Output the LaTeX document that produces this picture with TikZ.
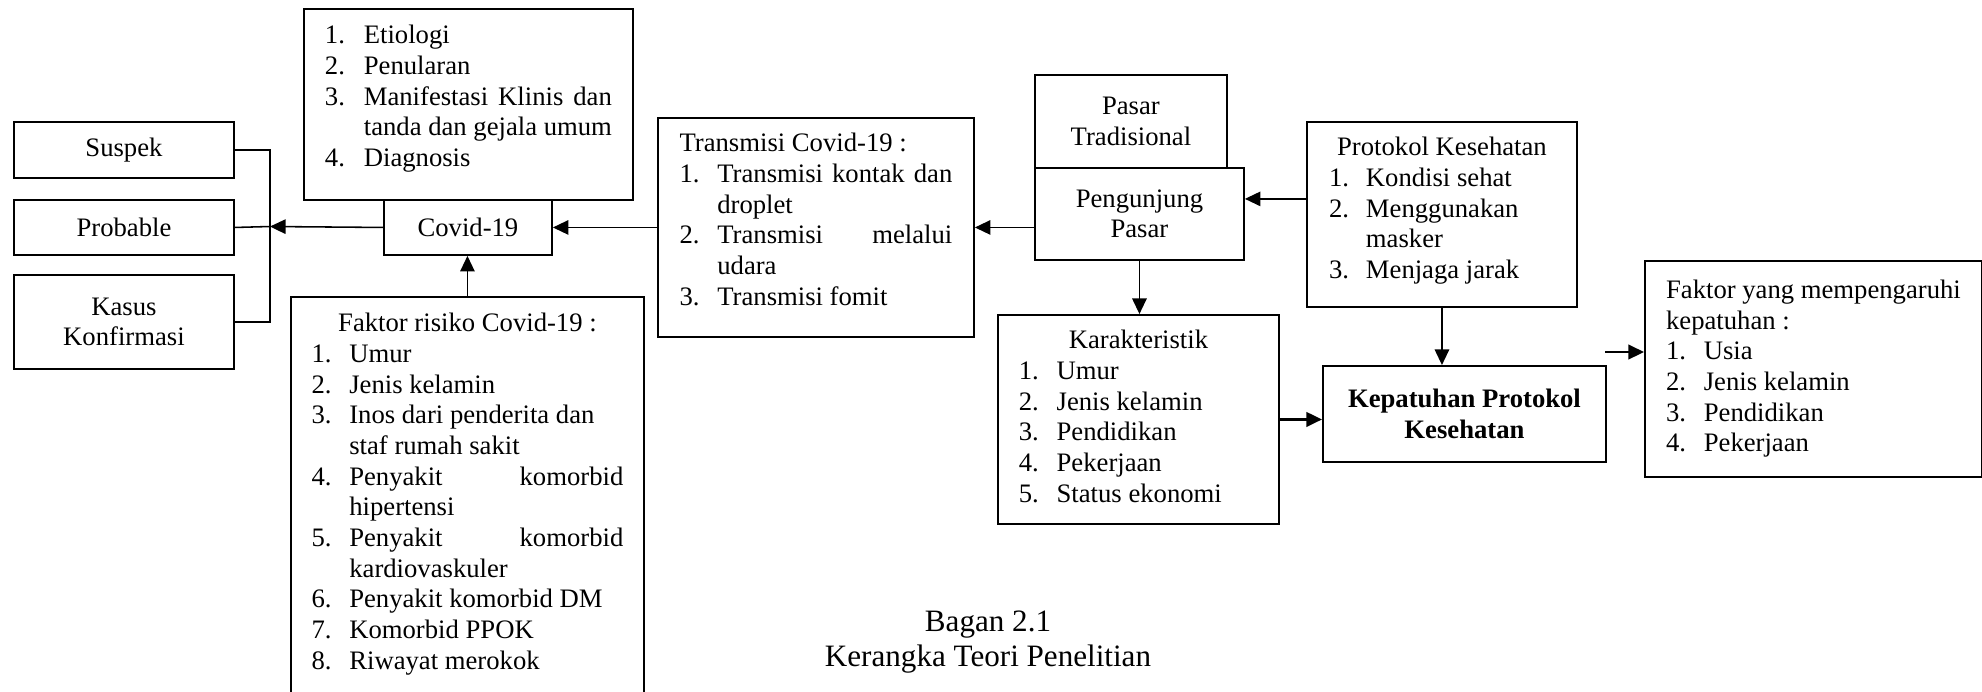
\documentclass[tikz,border=0pt]{standalone}
\usepackage{fontspec}
\setmainfont{Liberation Serif}
\usetikzlibrary{arrows.meta}
\newcommand{\jl}[2]{\makebox[#1][s]{#2}}
\tikzset{
	box/.style={draw, line width=0.85pt, inner sep=0pt, anchor=north west, align=center, font=\fontsize{12}{13.8}\selectfont},
	wh/.style 2 args={minimum width=#1*0.45pt, minimum height=#2*0.45pt},
	arr/.style={line width=0.7pt, -{Triangle[length=7pt, width=6.5pt]}},
	tebal/.style={arr, line width=1.1pt}
}

\begin{document}
\begin{tikzpicture}[x=0.45pt, y=-0.45pt]
	\useasboundingbox (0,0) rectangle (1982,691);
	% klasifikasi kasus
	\node[box, wh={220}{56}] (suspek) at (13,121) {Suspek};
	\node[box, wh={220}{55}] (probable) at (13,199) {Probable};
	\node[box, wh={220}{94}] (kasus) at (13,274) {Kasus\\Konfirmasi};
	% covid-19
	\node[box, wh={329}{191}] (materi) at (303,8) {\begin{tabular}{@{}p{17.5pt}@{}l@{}}
		1. & Etiologi\\
		2. & Penularan\\
		3. & \jl{111.6pt}{Manifestasi Klinis dan}\\
		& tanda dan gejala umum\\
		4. & Diagnosis\\[5pt]
	\end{tabular}};
	\node[box, wh={168}{55}] (covid) at (383,199) {Covid-19};
	\node[box, minimum width=353*0.45pt, inner ysep=6pt] (risiko) at (290,296) {\begin{tabular}{@{}p{17pt}@{}l@{}}
		\multicolumn{2}{@{}c@{}}{Faktor risiko Covid-19 :}\\
		1. & Umur\\
		2. & Jenis kelamin\\
		3. & Inos dari penderita dan\\
		& staf rumah sakit\\
		4. & \jl{123.3pt}{Penyakit komorbid}\\
		& hipertensi\\
		5. & \jl{123.3pt}{Penyakit komorbid}\\
		& kardiovaskuler\\
		6. & Penyakit komorbid DM\\
		7. & Komorbid PPOK\\
		8. & Riwayat merokok\\[10pt]
	\end{tabular}};
	\node[box, wh={316}{219}] (transmisi) at (657,117) {\begin{tabular}{@{}p{17pt}@{}l@{}}
		\multicolumn{2}{@{}l@{}}{Transmisi Covid-19 :}\\
		1. & \jl{105.75pt}{Transmisi kontak dan}\\
		& droplet\\
		2. & \jl{105.75pt}{Transmisi melalui}\\
		& udara\\
		3. & Transmisi fomit\\[4.5pt]
	\end{tabular}};
	% pasar
	\node[box, wh={192}{93}] (pasar) at (1034,74) {Pasar\\Tradisional};
	\node[box, wh={209}{92}] (pengunjung) at (1034,167) {Pengunjung\\Pasar};
	\node[box, wh={270}{185}] (protokol) at (1306,121) {\begin{tabular}{@{}p{16.6pt}@{}p{85pt}@{}}
		\multicolumn{2}{@{}c@{}}{Protokol Kesehatan}\\
		1. & Kondisi sehat\\
		2. & Menggunakan\\
		& masker\\
		3. & Menjaga jarak\\[3pt]
	\end{tabular}};
	\node[box, wh={281}{209}] (karakter) at (997,314) {\begin{tabular}{@{}p{17pt}@{}p{90.6pt}@{}}
		\multicolumn{2}{@{}c@{}}{Karakteristik}\\
		1. & Umur\\
		2. & Jenis kelamin\\
		3. & Pendidikan\\
		4. & Pekerjaan\\
		5. & Status ekonomi
	\end{tabular}};
	\node[box, wh={283}{96}, font=\fontsize{12}{13.8}\selectfont\bfseries] (patuh) at (1322,365) {Kepatuhan Protokol\\Kesehatan};
	\node[box, wh={337}{216}] (faktor) at (1644,260) {\begin{tabular}{@{}p{17pt}@{}l@{}}
		\multicolumn{2}{@{}l@{}}{Faktor yang mempengaruhi}\\
		\multicolumn{2}{@{}l@{}}{kepatuhan :}\\
		1. & Usia\\
		2. & Jenis kelamin\\
		3. & Pendidikan\\
		4. & Pekerjaan
	\end{tabular}};
	\node[font=\fontsize{14}{16.1}\selectfont, align=center] (judul) at (988,642) {Bagan 2.1\\Kerangka Teori Penelitian};
	% panah
	\coordinate (cabang) at (270,226.5);
	\draw[line width=0.7pt] (suspek.east) -| (cabang) |- (kasus.east);
	\draw[line width=0.7pt] (probable.east) -- (cabang);
	\draw[arr] (covid.west) -- (cabang);
	\draw[arr] (risiko.north) -- (risiko.north |- covid.south);
	\draw[arr] (transmisi.west) -- (covid.east);
	\draw[arr] (pengunjung.west |- transmisi.east) -- (transmisi.east);
	\draw[arr] ([yshift=7pt]protokol.west) -- ([yshift=7pt]protokol.west -| pengunjung.east);
	\draw[arr] (pengunjung.south) -- (pengunjung.south |- karakter.north);
	\draw[arr] (protokol.south) -- (protokol.south |- patuh.north);
	\draw[tebal] (karakter.east) -- (karakter.east -| patuh.west);
	\coordinate (lepas) at (1605,352);
	\draw[tebal] (lepas) -- (lepas -| faktor.west);
\end{tikzpicture}
\end{document}
